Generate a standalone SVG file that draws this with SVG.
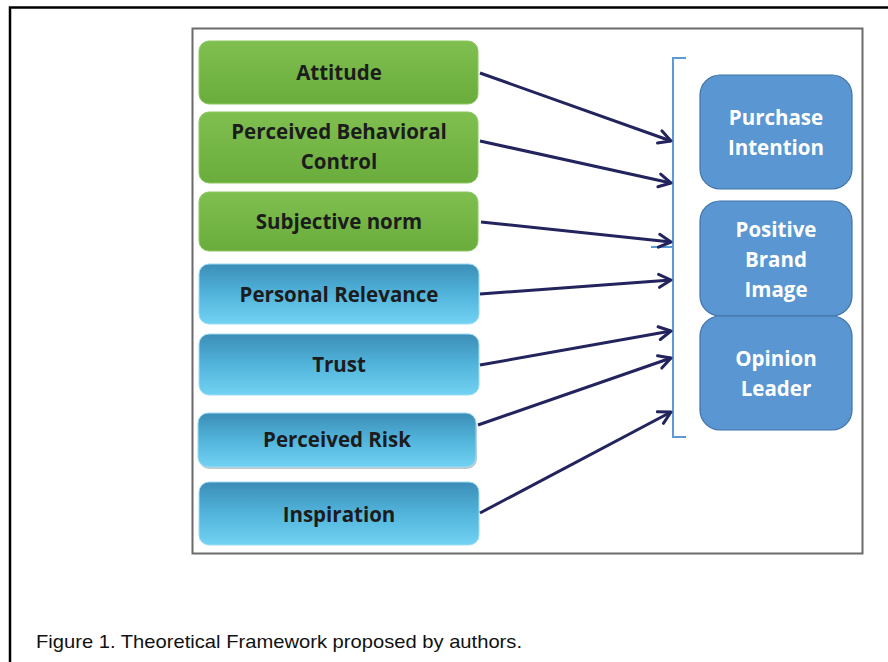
<svg xmlns="http://www.w3.org/2000/svg" width="888" height="662" viewBox="0 0 888 662">
<defs>
<linearGradient id="gGreen" x1="0" y1="0" x2="0" y2="1">
<stop offset="0" stop-color="#7fbf50"/>
<stop offset="1" stop-color="#6aad3c"/>
</linearGradient>
<linearGradient id="gBlue" x1="0" y1="0" x2="0" y2="1">
<stop offset="0" stop-color="#3b8db6"/>
<stop offset="0.5" stop-color="#52b4db"/>
<stop offset="1" stop-color="#72d2f3"/>
</linearGradient>
<marker id="arr" markerWidth="18" markerHeight="18" refX="14" refY="9" orient="auto" markerUnits="userSpaceOnUse">
<polyline points="2,2.5 14,9 2,15.5" fill="none" stroke="#23235e" stroke-width="3" stroke-linecap="round" stroke-linejoin="round"/>
</marker>
</defs>
<style>
.lbl{font-family:"Open Sans","Noto Sans","Liberation Sans",sans-serif;font-weight:bold;font-size:20.5px;text-anchor:middle;fill:#1c1c1c}
.out{font-family:"Open Sans","Noto Sans","Liberation Sans",sans-serif;font-weight:bold;font-size:20.5px;text-anchor:middle;fill:#ffffff}
.green{fill:url(#gGreen);stroke:#8cc860;stroke-width:1}
.blue{fill:url(#gBlue);stroke:#9bdcf2;stroke-width:1}
.res{fill:#5a96d2;stroke:#3f72a8;stroke-width:1.2}
.conn line{stroke:#23235e;stroke-width:3;marker-end:url(#arr)}
.brk{fill:none;stroke:#5b9bd5;stroke-width:2}
</style>
<rect width="888" height="662" fill="#ffffff"/>
<path d="M10,662 V7.5 H888" fill="none" stroke="#000" stroke-width="2.5"/>
<rect x="192.5" y="28.5" width="670" height="525" fill="#ffffff" stroke="#6b6b6b" stroke-width="2"/>

<g id="node-attitude"><rect class="green" x="199" y="41" width="279" height="63" rx="10"/><text class="lbl" x="339" y="80">Attitude</text></g>
<g id="node-pbc"><rect class="green" x="199" y="112" width="279" height="71" rx="10"/><text class="lbl" x="339" y="139">Perceived Behavioral</text><text class="lbl" x="339" y="169">Control</text></g>
<g id="node-sn"><rect class="green" x="199" y="192" width="279" height="59" rx="10"/><text class="lbl" x="339" y="229">Subjective norm</text></g>
<g id="node-pr"><rect class="blue" x="199" y="264" width="280" height="60" rx="10"/><text class="lbl" x="339" y="302">Personal Relevance</text></g>
<g id="node-trust"><rect class="blue" x="199" y="334" width="280" height="61" rx="10"/><text class="lbl" x="339" y="372">Trust</text></g>
<g id="node-risk"><rect x="199" y="416" width="278" height="53" rx="10" fill="#9aa3a8" opacity="0.6"/><rect class="blue" x="198" y="413" width="278" height="54" rx="10"/><text class="lbl" x="337" y="447">Perceived Risk</text></g>
<g id="node-insp"><rect class="blue" x="199" y="482" width="280" height="63" rx="10"/><text class="lbl" x="339" y="522">Inspiration</text></g>

<g id="node-pi"><rect class="res" x="700" y="75" width="152" height="114" rx="20"/><text class="out" x="776" y="125">Purchase</text><text class="out" x="776" y="155">Intention</text></g>
<g id="node-pbi"><rect class="res" x="700" y="201" width="152" height="115" rx="20"/><text class="out" x="776" y="237">Positive</text><text class="out" x="776" y="267">Brand</text><text class="out" x="776" y="297">Image</text></g>
<g id="node-ol"><rect class="res" x="700" y="316" width="152" height="114" rx="20"/><text class="out" x="776" y="366">Opinion</text><text class="out" x="776" y="396">Leader</text></g>

<g id="bracket"><path class="brk" d="M686,58 H673 V437 H686"/><path class="brk" d="M651,247 H673"/></g>

<g id="connectors" class="conn">
<line x1="480" y1="73" x2="671" y2="141"/>
<line x1="480" y1="141" x2="671" y2="183"/>
<line x1="481" y1="222" x2="671" y2="242"/>
<line x1="480" y1="294" x2="671" y2="280"/>
<line x1="480" y1="365" x2="671" y2="331"/>
<line x1="478" y1="425" x2="671" y2="358"/>
<line x1="480" y1="513" x2="671" y2="412"/>
</g>

<text x="36" y="648" font-family="Liberation Sans, Arial, sans-serif" font-size="19" textLength="486" lengthAdjust="spacingAndGlyphs" fill="#111">Figure 1. Theoretical Framework proposed by authors.</text>
</svg>
